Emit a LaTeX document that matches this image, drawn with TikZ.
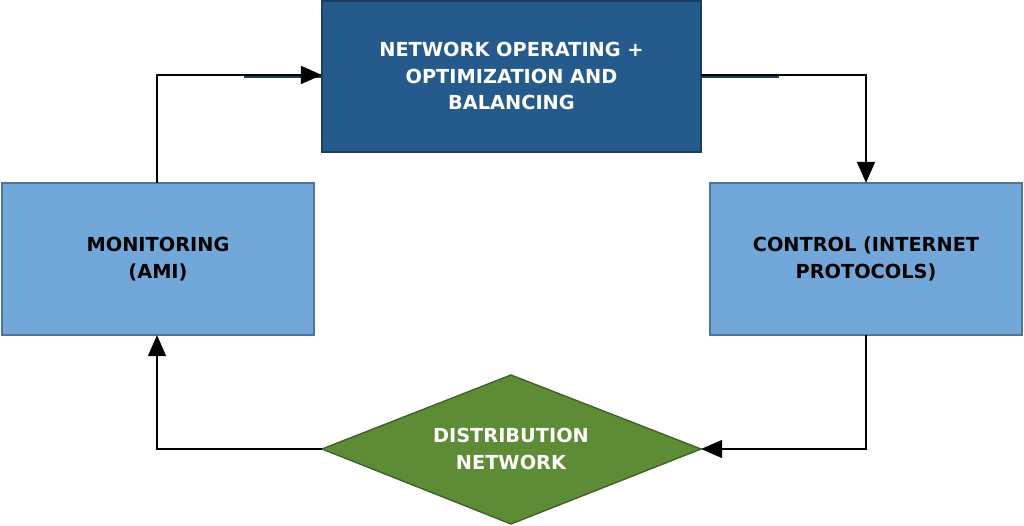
\documentclass[tikz,border=0pt]{standalone}
\usepackage{fontspec}
\setmainfont{DejaVu Sans}
\usetikzlibrary{shapes.geometric,arrows.meta}
\definecolor{dark}{HTML}{245A8C}
\definecolor{light}{HTML}{72A7DA}
\definecolor{grn}{HTML}{5E8C36}
\begin{document}
\begin{tikzpicture}[x=0.02cm,y=-0.02cm,
 box/.style={draw=#1!70!black,line width=0.8pt,inner sep=0,align=center,font=\bfseries\fontsize{11}{15}\selectfont},
 arr/.style={line width=1.6pt,-{Triangle[length=12pt,width=10pt]}}]
\useasboundingbox (0,0) rectangle (1024,526);
\fill[white] (0,0) rectangle (1024,526);
\node[box=dark,fill=dark,text=white,minimum width=379\pgflinewidth] (top) at (511.5,76) {};
\path[box=dark,fill=dark,draw=dark!70!black] (322,1) rectangle (701,152);
\node[font=\bfseries\fontsize{11}{15}\selectfont,text=white,align=center] (topt) at (511.5,76) {NETWORK OPERATING +\\OPTIMIZATION AND\\BALANCING};
\path[fill=light,draw=light!70!black,line width=0.8pt] (2,183) rectangle (314,335);
\node[font=\bfseries\fontsize{11}{15}\selectfont,align=center] (left) at (158,259) {MONITORING\\(AMI)};
\path[fill=light,draw=light!70!black,line width=0.8pt] (710,183) rectangle (1022,335);
\node[font=\bfseries\fontsize{11}{15}\selectfont,align=center] (right) at (866,259) {CONTROL (INTERNET\\PROTOCOLS)};
\path[fill=grn,draw=grn!70!black,line width=0.8pt] (322,449) -- (511,375) -- (701,449) -- (511,524) -- cycle;
\node[font=\bfseries\fontsize{11}{15}\selectfont,text=white,align=center] (dia) at (511,449) {DISTRIBUTION\\NETWORK};
\coordinate (a1) at (157,183); \coordinate (a2) at (322,75);
\coordinate (b1) at (701,75); \coordinate (b2) at (866,183);
\coordinate (c1) at (866,335); \coordinate (c2) at (701,449);
\coordinate (d1) at (322,449); \coordinate (d2) at (157,335);
\draw[arr] (a1) |- (a2);
\draw[arr] (b1) -| (b2);
\draw[arr] (c1) |- (c2);
\draw[arr] (d1) -| (d2);
\end{tikzpicture}
\end{document}
